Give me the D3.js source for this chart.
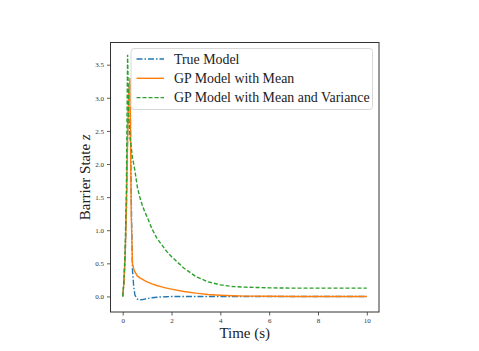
<!DOCTYPE html>
<html>
<head>
<meta charset="utf-8">
<script src="https://cdn.jsdelivr.net/npm/d3@7"></script>
<style>
  body { margin: 0; background: #fff; }
  svg { display: block; }
  .tick text { font-family: "Liberation Serif", "DejaVu Serif", serif; font-size: 7px; fill: #333; }
  .lbl { font-family: "Liberation Serif", "DejaVu Serif", serif; fill: #222; }
</style>
</head>
<body>
<div id="chart"></div>
<script>
// time samples (s)
var times = [0, 0.05, 0.1, 0.15, 0.2, 0.25, 0.3, 0.35, 0.4, 0.45, 0.5, 0.6, 0.7, 0.8, 0.9, 1.0,
  1.2, 1.4, 1.6, 1.8, 2.0, 2.5, 3, 3.5, 4, 4.5, 5, 6, 7, 8, 9, 10];

var trueModel = [0, 0.2, 0.6, 1.3, 2.4, 3.1, 3.25, 1.5, 0.4, 0.15, 0.02, -0.04, -0.05, -0.048, -0.04, -0.032,
  -0.02, -0.012, -0.007, -0.004, -0.002, 0, 0, 0, 0, 0, 0, 0, 0, 0, 0, 0];

var gpMean = [0, 0.2, 0.6, 1.3, 2.4, 3.1, 3.3, 1.2, 0.5, 0.42, 0.37, 0.31, 0.28, 0.26, 0.24, 0.22,
  0.19, 0.165, 0.145, 0.125, 0.11, 0.075, 0.05, 0.03, 0.018, 0.01, 0.005, 0.002, 0, 0, 0, 0];

var gpMeanVar = [0, 0.25, 0.7, 1.6, 3.65, 2.7, 2.4, 2.25, 2.1, 2.0, 1.9, 1.65, 1.5, 1.38, 1.28, 1.2,
  1.02, 0.88, 0.78, 0.68, 0.6, 0.43, 0.3, 0.22, 0.175, 0.15, 0.14, 0.13, 0.125, 0.125, 0.125, 0.125];

var seriesNames = ["True Model", "GP Model with Mean", "GP Model with Mean and Variance"];
var xTicks = [0, 2, 4, 6, 8, 10];
var yTicks = [0.0, 0.5, 1.0, 1.5, 2.0, 2.5, 3.0, 3.5];

var width = 479, height = 351;
var margin = {left: 110.5, right: 100, top: 42.5, bottom: 39};

var svg = d3.select("#chart").append("svg")
  .attr("width", width)
  .attr("height", height);

var x = d3.scaleLinear().domain([-0.5, 10.5]).range([margin.left, width - margin.right]);
var y = d3.scaleLinear().domain([-0.235, 3.835]).range([height - margin.bottom, margin.top]);

var series = [
  {name: seriesNames[0], values: trueModel, color: "#1f77b4", dash: "6,2,1.5,2"},
  {name: seriesNames[1], values: gpMean, color: "#ff7f0e", dash: null},
  {name: seriesNames[2], values: gpMeanVar, color: "#2ca02c", dash: "4,2"}
];

var line = d3.line()
  .x(function(d) { return x(d[0]); })
  .y(function(d) { return y(d[1]); });

var plot = svg.append("g");
plot.append("clipPath").attr("id", "clip")
  .append("rect")
  .attr("x", margin.left).attr("y", margin.top)
  .attr("width", width - margin.left - margin.right)
  .attr("height", height - margin.top - margin.bottom);

plot.selectAll("path.series")
  .data(series)
  .enter()
  .append("path")
  .attr("class", "series")
  .attr("clip-path", "url(#clip)")
  .attr("d", function(s) { return line(times.map(function(t, i) { return [t, s.values[i]]; })); })
  .attr("fill", "none")
  .attr("stroke", function(s) { return s.color; })
  .attr("stroke-width", 1.4)
  .attr("stroke-dasharray", function(s) { return s.dash; });

// axes
var xAxis = svg.append("g")
  .attr("transform", "translate(0," + (height - margin.bottom) + ")")
  .call(d3.axisBottom(x).tickValues(xTicks).tickSize(3.5).tickPadding(3).tickFormat(d3.format("d")));
var yAxis = svg.append("g")
  .attr("transform", "translate(" + margin.left + ",0)")
  .call(d3.axisLeft(y).tickValues(yTicks).tickSize(3.5).tickPadding(3).tickFormat(d3.format(".1f")));
[xAxis, yAxis].forEach(function(a) {
  a.select(".domain").remove();
  a.selectAll(".tick line").attr("stroke", "#333").attr("stroke-width", 0.8);
});

svg.append("rect")
  .attr("x", margin.left).attr("y", margin.top)
  .attr("width", width - margin.left - margin.right)
  .attr("height", height - margin.top - margin.bottom)
  .attr("fill", "none")
  .attr("stroke", "#333")
  .attr("stroke-width", 1);

// axis labels
svg.append("text").attr("class", "lbl")
  .attr("x", (margin.left + width - margin.right) / 2)
  .attr("y", 338)
  .attr("text-anchor", "middle")
  .style("font-size", "15px")
  .text("Time (s)");

var yl = svg.append("text").attr("class", "lbl")
  .attr("transform", "translate(90," + ((margin.top + height - margin.bottom) / 2) + ") rotate(-90)")
  .attr("text-anchor", "middle")
  .style("font-size", "15px");
yl.append("tspan").text("Barrier State ");
yl.append("tspan").style("font-style", "italic").text("z");

// legend
var legend = svg.append("g").attr("transform", "translate(131,48.5)");
legend.append("rect")
  .attr("width", 241.5).attr("height", 61)
  .attr("rx", 3)
  .attr("fill", "#fff").attr("fill-opacity", 0.8)
  .attr("stroke", "#d8d8d8").attr("stroke-width", 1);

var rows = legend.selectAll("g.row")
  .data(series)
  .enter()
  .append("g")
  .attr("class", "row")
  .attr("transform", function(d, i) { return "translate(0," + (10.5 + i * 19.3) + ")"; });
rows.append("line")
  .attr("x1", 5.5).attr("x2", 33)
  .attr("stroke", function(s) { return s.color; })
  .attr("stroke-width", 1.4)
  .attr("stroke-dasharray", function(s) { return s.dash; });
rows.append("text").attr("class", "lbl")
  .attr("x", 43).attr("y", 4.5)
  .style("font-size", "13.9px")
  .text(function(s) { return s.name; });
</script>
</body>
</html>
